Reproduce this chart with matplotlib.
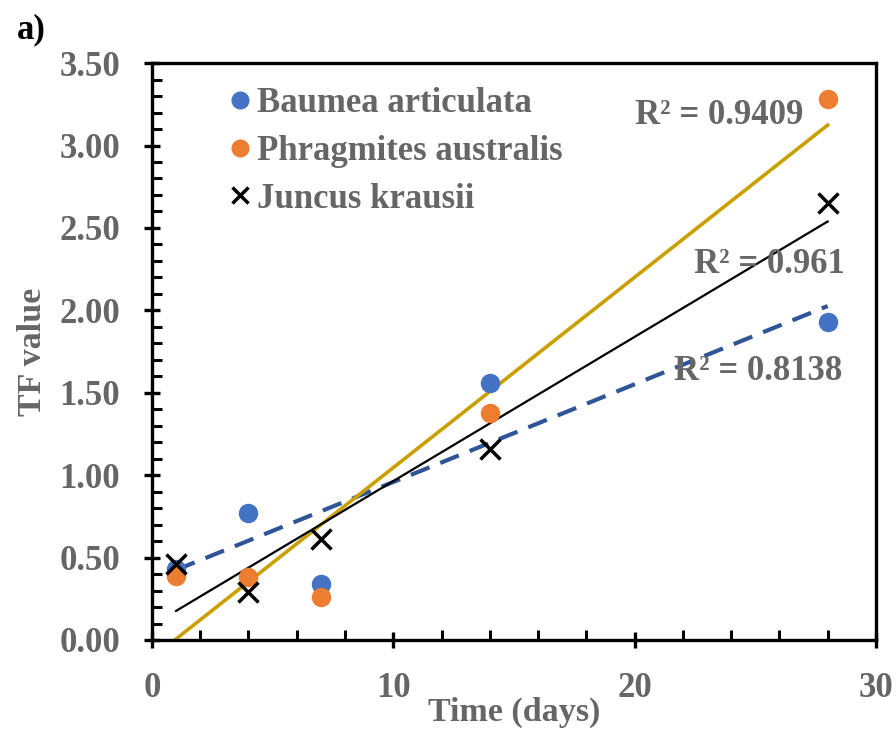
import numpy as np
import matplotlib
matplotlib.use("Agg")
import matplotlib.pyplot as plt
from matplotlib.ticker import MultipleLocator

days = [1, 4, 7, 14, 28]
baumea = [0.43, 0.77, 0.34, 1.56, 1.93]
phrag = [0.39, 0.38, 0.26, 1.38, 3.28]
juncus = [0.46, 0.29, 0.61, 1.16, 2.65]
r2_labels = ["R² = 0.8138", "R² = 0.9409", "R² = 0.961"]

plt.rcParams['font.family'] = ['Liberation Serif', 'DejaVu Serif']
plt.rcParams['font.weight'] = 'bold'
grey = '#666666'

fig = plt.figure(figsize=(8.96, 7.33), dpi=100)
ax = fig.add_axes([0.1696, 0.1269, 0.808, 0.787])

x = np.array(days, dtype=float)
xx = np.array([x.min(), x.max()])

ax.plot(x, baumea, 'o', color='#4472C4', ms=13, label='Baumea articulata', zorder=3)
ax.plot(x, phrag, 'o', color='#ED7D31', ms=13, label='Phragmites australis', zorder=3)
ax.plot(x, juncus, 'x', color='black', ms=15, mew=2.5, label='Juncus krausii', zorder=4)

# linear trendlines
p = np.polyfit(x, baumea, 1)
ax.plot(xx, np.polyval(p, xx), '--', color='#2F5597', lw=3, dashes=(4.8, 2.8), zorder=2)
p = np.polyfit(x, phrag, 1)
ax.plot(xx, np.polyval(p, xx), '-', color='#C9A000', lw=2.6, zorder=2)
p = np.polyfit(x, juncus, 1)
ax.plot(xx, np.polyval(p, xx), '-', color='black', lw=1.6, zorder=2)

ax.text(25.1, 1.626, r2_labels[0], color=grey, fontsize=25, fontweight='bold', ha='center', va='center', zorder=5)
ax.text(23.5, 3.18, r2_labels[1], color=grey, fontsize=25, fontweight='bold', ha='center', va='center', zorder=5)
ax.text(25.6, 2.28, r2_labels[2], color=grey, fontsize=25, fontweight='bold', ha='center', va='center', zorder=5)

ax.set_xlim(0, 30)
ax.set_ylim(0, 3.5)
ax.xaxis.set_major_locator(MultipleLocator(10))
ax.xaxis.set_minor_locator(MultipleLocator(2))
ax.yaxis.set_major_locator(MultipleLocator(0.5))
ax.yaxis.set_minor_locator(MultipleLocator(0.1))
ax.yaxis.set_major_formatter(plt.FormatStrFormatter('%.2f'))

for s in ax.spines.values():
    s.set_linewidth(2.4)
ax.tick_params(which='major', direction='inout', length=12, width=2.4, labelsize=25, labelcolor=grey)
ax.tick_params(axis='y', which='major', pad=17)
ax.tick_params(axis='x', which='major', pad=17)
ax.tick_params(which='minor', direction='in', length=7, width=2.2)
for lab in ax.get_xticklabels() + ax.get_yticklabels():
    lab.set_fontweight('bold')

ax.set_xlabel('Time (days)', fontsize=24.5, fontweight='bold', color=grey, labelpad=-6)
ax.set_ylabel('TF value', fontsize=24.5, fontweight='bold', color=grey, labelpad=8)

leg = ax.legend(loc='upper left', bbox_to_anchor=(0.093, 0.976), frameon=False,
                prop={'size': 25, 'weight': 'bold'}, handletextpad=0.2,
                handlelength=0.6, labelspacing=0.42, borderaxespad=0.0,
                borderpad=0.3)
for t in leg.get_texts():
    t.set_color(grey)
for h in leg.legend_handles:
    h.set_markersize(12)

fig.text(0.019, 0.96, 'a)', fontsize=25, fontweight='bold', color='black', va='center')

fig.savefig('out.png', dpi=100)
